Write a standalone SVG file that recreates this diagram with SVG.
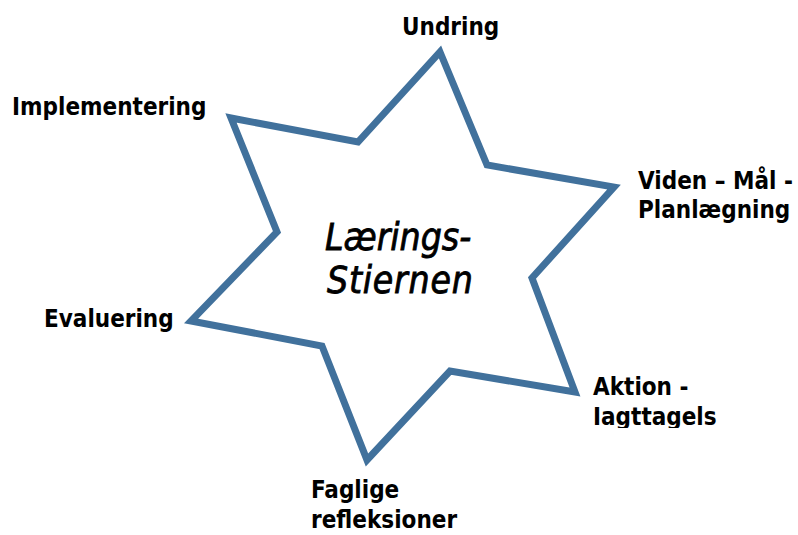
<svg xmlns="http://www.w3.org/2000/svg" width="798" height="535" viewBox="0 0 798 535">
<style>
.lbl{font-family:"DejaVu Sans Condensed","DejaVu Sans",sans-serif;font-weight:bold;font-size:24px;fill:#000}
.ctr{font-family:"DejaVu Sans Condensed","DejaVu Sans",sans-serif;font-style:italic;font-size:37px;fill:#000;stroke:#000;stroke-width:0.8}
.star{fill:#fff;stroke:#41719C;stroke-width:7;stroke-linejoin:miter}
</style>
<defs><clipPath id="c1"><rect x="560" y="360" width="238" height="68"/></clipPath></defs>
<rect width="798" height="535" fill="#fff"/>
<g id="star">
<polygon class="star" points="440,52 487,165 614,187 532,278 575,392 450,371 367,460 322,346 191,321 277,232 231,118 358,142"/>
<text class="ctr" x="325" y="250">Lærings-</text>
<text class="ctr" x="327" y="293" letter-spacing="0.8">Stiernen</text>
</g>
<g id="connectors"></g>
<g id="undring"><text class="lbl" x="402" y="35">Undring</text></g>
<g id="viden"><text class="lbl" x="638" y="189">Viden – Mål -</text><text class="lbl" x="638" y="218">Planlægning</text></g>
<g id="aktion" clip-path="url(#c1)"><text class="lbl" x="593" y="395">Aktion -</text><text class="lbl" x="593" y="425">Iagttagels</text></g>
<g id="faglige"><text class="lbl" x="311" y="498">Faglige</text><text class="lbl" x="311" y="528">refleksioner</text></g>
<g id="evaluering"><text class="lbl" x="44" y="327">Evaluering</text></g>
<g id="implementering"><text class="lbl" x="12" y="115">Implementering</text></g>
</svg>
